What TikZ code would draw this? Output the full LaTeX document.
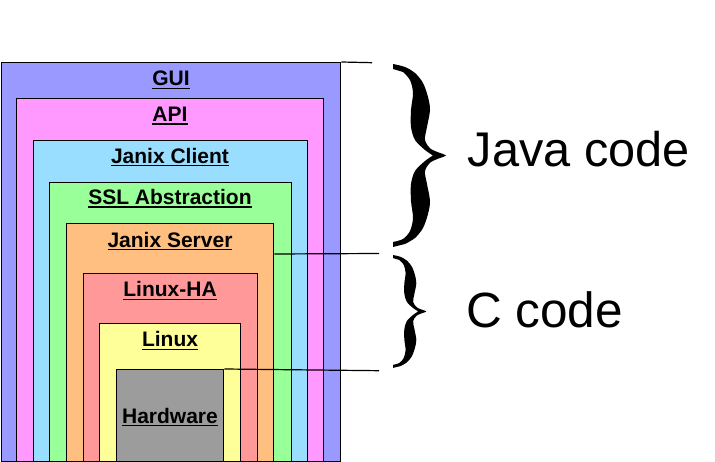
\documentclass[tikz,border=0pt]{standalone}
\usepackage{fontspec}
\setmainfont{Liberation Sans}
\definecolor{cgui}{HTML}{9999FF}
\definecolor{capi}{HTML}{FF99FF}
\definecolor{cclient}{HTML}{99DDFF}
\definecolor{cssl}{HTML}{99FF99}
\definecolor{cserver}{HTML}{FFBF80}
\definecolor{cha}{HTML}{FF9999}
\definecolor{clinux}{HTML}{FFFF99}
\definecolor{chw}{HTML}{9C9C9C}
\newcommand\ulbl[1]{\vtop{\hbox{#1}\kern1.6pt\hrule height 1.3pt}}
\begin{document}
\begin{tikzpicture}[x=1pt,y=-1pt,
  layer/.style={draw=black, line width=1.3pt, rectangle, inner sep=0pt, anchor=north west},
  lbl/.style={anchor=base, inner sep=0pt, font=\fontsize{21}{25}\selectfont\bfseries},
  side/.style={anchor=base west, inner sep=0pt},
  conn/.style={draw=black, line width=1.2pt}]
\useasboundingbox (0,0) rectangle (715,462);
% layers
\node[layer, fill=cgui, minimum width=339.3pt, minimum height=399pt] (gui) at (0.7,62) {};
\node[layer, fill=capi, minimum width=307pt, minimum height=363pt] (api) at (16,98) {};
\node[layer, fill=cclient, minimum width=274pt, minimum height=321pt] (client) at (33,140) {};
\node[layer, fill=cssl, minimum width=241.5pt, minimum height=279pt] (ssl) at (49,182) {};
\node[layer, fill=cserver, minimum width=207pt, minimum height=238pt] (server) at (66,223) {};
\node[layer, fill=cha, minimum width=174pt, minimum height=188pt] (ha) at (83,273) {};
\node[layer, fill=clinux, minimum width=141pt, minimum height=138pt] (linux) at (99,323) {};
\node[layer, fill=chw, minimum width=107pt, minimum height=92pt] (hw) at (116,369) {};
% labels
\node[lbl] (tgui) at (171,86) {\ulbl{GUI}};
\node[lbl] (tapi) at (170,121.7) {\ulbl{API}};
\node[lbl] (tclient) at (170,163.3) {\ulbl{Janix Client}};
\node[lbl] (tssl) at (170,204.5) {\ulbl{SSL Abstraction}};
\node[lbl] (tserver) at (170,247.3) {\ulbl{Janix Server}};
\node[lbl] (tha) at (170,296.7) {\ulbl{Linux-HA}};
\node[lbl] (tlinux) at (170,346.7) {\ulbl{Linux}};
\node[lbl] (thw) at (170,423.3) {\ulbl{Hardware}};
% connector lines
\coordinate (e1) at (372,62.7);
\coordinate (e2) at (379,253.5);
\coordinate (e3) at (379,370.7);
\draw[conn] (gui.north east) -- (e1);
\draw[conn] (server.east |- 0,254) -- (e2);
\draw[conn] (hw.north east) -- (e3);
% braces
\newcommand\bracefill{%
\fill (53,91.5) -- plot[smooth] coordinates {(50,90) (38,85) (32,76) (34,63) (37,46) (35,33) (30,19) (22,9) (12,3) (0,0)}
 -- (0,5) -- plot[smooth] coordinates {(10,8) (17,16) (20,29) (18,46) (18,63) (22,76) (32,86) (40,91.5)}
 -- plot[smooth] coordinates {(40,91.5) (32,97) (22,107) (18,120) (18,137) (20,154) (17,167) (10,175) (0,178)}
 -- (0,183) -- plot[smooth] coordinates {(12,180) (22,174) (30,164) (35,150) (37,137) (34,120) (32,107) (38,98) (50,93)} -- cycle;}
\begin{scope}[shift={(393,64)}]
\bracefill
\end{scope}
\begin{scope}[shift={(393,255)}, xscale=0.63, yscale=0.617]
\bracefill
\end{scope}
% side texts
\node[side, font=\fontsize{48.7}{58}\selectfont] (java) at (467.5,166.7) {Java code};
\node[side, font=\fontsize{49.5}{59}\selectfont] (ccode) at (466,327.3) {C code};
\end{tikzpicture}
\end{document}
